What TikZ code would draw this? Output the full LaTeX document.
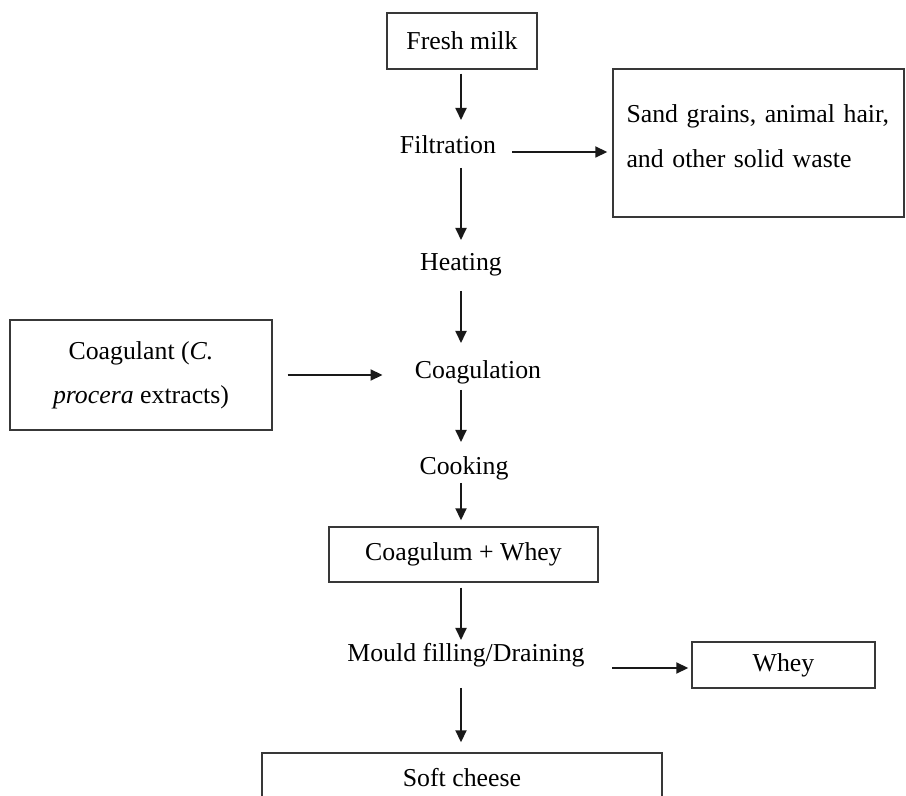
\documentclass[tikz,border=0pt]{standalone}
\usepackage{fontspec}
\setmainfont{Liberation Serif}
\usetikzlibrary{arrows.meta}

\begin{document}
\begin{tikzpicture}[x=0.5pt,y=-0.5pt,
    font=\fontsize{12.9}{15}\selectfont,
    box/.style={draw=black!78,line width=0.7pt,inner sep=0pt,align=center},
    stage/.style={inner sep=0pt},
    arr/.style={-{Triangle[length=6pt,width=5.5pt]},line width=0.9pt,black!90}]
  \useasboundingbox (0,0) rectangle (906,796);
  % main line of the process
  \node[box,minimum width=75pt,minimum height=28pt] (milk) at (462,41) {Fresh milk};
  \node[stage] (filt) at (448,145) {Filtration};
  \node[stage] (heat) at (461,265) {Heating};
  \node[stage] (coag) at (478,372) {Coagulation};
  \node[stage] (cook) at (464,468) {Cooking};
  \node[box,minimum width=134.5pt,minimum height=27.5pt] (curd) at (463.5,554.5) {Coagulum + Whey};
  \node[stage] (mould) at (466,655) {Mould filling/Draining};
  \node[box,minimum width=200pt,minimum height=25pt] (cheese) at (462,778) {Soft cheese};
  % side boxes
  \node[box,align=left,text width=132pt,inner xsep=6.75pt,minimum height=74pt,
        font=\fontsize{12.9}{22.5}\selectfont] (waste) at (758.5,143)
        {Sand grains, animal hair,\\and other solid waste\\[-15.5pt]\mbox{}};
  \node[box,minimum width=131pt,minimum height=55pt,
        font=\fontsize{12.9}{22}\selectfont] (agent) at (141,375)
        {Coagulant (\textit{C.}\\\textit{procera} extracts)};
  \node[box,minimum width=91.5pt,minimum height=23pt] (whey) at (783.5,665) {Whey};
  % downward arrows on one axis
  \coordinate (axis) at (461,0);
  \foreach \a/\b/\s/\e in {milk.south/filt/2/12.5, filt/heat/11.5/12.5,
      heat/coag/13/14.5, coag/cook/9/13, cook/curd.north/7.5/3,
      curd.south/mould/2.5/7.5, mould/cheese.north/16.5/5}
    \draw[arr,shorten <=\s pt,shorten >=\e pt] (axis |- \a) -- (axis |- \b);
  % side arrows
  \draw[arr,shorten <=8pt,shorten >=2.5pt] ([yshift=-3.5pt]filt.east) -- ([yshift=-3.5pt]filt.east -| waste.west);
  \draw[arr,shorten <=7.5pt,shorten >=16pt] (agent.east) -- (agent.east -| coag.west);
  \draw[arr,shorten <=13.5pt,shorten >=1.5pt] ([yshift=-1.5pt]whey.west -| mould.east) -- ([yshift=-1.5pt]whey.west);
\end{tikzpicture}
\end{document}
